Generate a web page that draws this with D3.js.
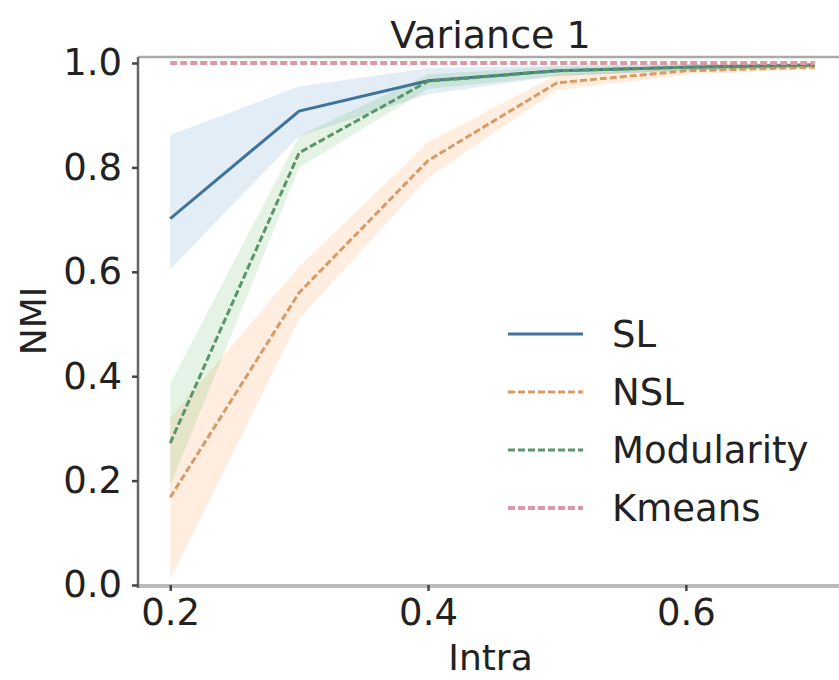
<!DOCTYPE html>
<html>
<head>
<meta charset="utf-8">
<script src="https://cdn.jsdelivr.net/npm/d3@7"></script>
<style>
  html, body { margin: 0; padding: 0; background: #fff; }
  svg { display: block; }
  text { font-family: "DejaVu Sans", sans-serif; fill: #222; }
</style>
</head>
<body>
<svg id="chart" width="839" height="680"></svg>
<script>
const xValues = [0.2, 0.3, 0.4, 0.5, 0.6, 0.7];
const slMean  = [0.702, 0.908, 0.966, 0.985, 0.992, 0.996];
const slLow   = [0.605, 0.860, 0.940, 0.975, 0.985, 0.992];
const slHigh  = [0.862, 0.955, 0.990, 0.995, 0.998, 1.000];
const nslMean = [0.168, 0.560, 0.813, 0.962, 0.985, 0.992];
const nslLow  = [0.010, 0.510, 0.780, 0.948, 0.978, 0.988];
const nslHigh = [0.320, 0.610, 0.848, 0.978, 0.993, 0.997];
const modMean = [0.272, 0.828, 0.965, 0.985, 0.992, 0.996];
const modLow  = [0.190, 0.800, 0.950, 0.975, 0.985, 0.992];
const modHigh = [0.385, 0.860, 0.978, 0.994, 0.998, 1.000];
const kmMean  = [1.0, 1.0, 1.0, 1.0, 1.0, 1.0];
const seriesNames = ["SL", "NSL", "Modularity", "Kmeans"];
const seriesColors = ["#1f77b4", "#ff7f0e", "#2ca02c", "#d62728"];
const lineColors = ["#3f739c", "#d99a66", "#5a9468", "#d99aa6"];
const xTicks = [0.2, 0.4, 0.6];
const yTicks = [0.0, 0.2, 0.4, 0.6, 0.8, 1.0];
const titleText = "Variance 1";
const xLabel = "Intra";
const yLabel = "NMI";

(function () {
const svg = d3.select("#chart");
const pLeft = 138, pRight = 847, pTop = 57, pBottom = 585;
const x = d3.scaleLinear().domain([0.175, 0.725]).range([pLeft, pRight]);
const y = d3.scaleLinear().domain([0, 1.0115]).range([pBottom, pTop]);

const series = [
  {mean: slMean, low: slLow, high: slHigh, dash: null, w: 3},
  {mean: nslMean, low: nslLow, high: nslHigh, dash: "7,3", w: 3},
  {mean: modMean, low: modLow, high: modHigh, dash: "7,3", w: 3},
  {mean: kmMean, low: null, high: null, dash: "7,3", w: 4}
];

const g = svg.append("g");
const area = d3.area().x(d => x(d.x)).y0(d => y(d.lo)).y1(d => y(d.hi));
const line = d3.line().x(d => x(d.x)).y(d => y(d.v));

series.forEach((s, i) => {
  if (s.low) {
    const pts = xValues.map((xv, j) => ({x: xv, lo: s.low[j], hi: s.high[j]}));
    g.append("path").attr("d", area(pts))
      .attr("fill", seriesColors[i]).attr("fill-opacity", 0.13);
  }
  const pts = xValues.map((xv, j) => ({x: xv, v: s.mean[j]}));
  g.append("path").attr("d", line(pts))
    .attr("fill", "none").attr("stroke", lineColors[i])
    .attr("stroke-width", s.w)
    .attr("stroke-dasharray", s.dash);
});

// spines
svg.append("line").attr("x1", pLeft).attr("x2", pRight).attr("y1", pTop).attr("y2", pTop)
  .attr("stroke", "#aaa").attr("stroke-width", 2.5);
svg.append("line").attr("x1", pLeft).attr("x2", pRight).attr("y1", pBottom + 1).attr("y2", pBottom + 1)
  .attr("stroke", "#bbb").attr("stroke-width", 4);
svg.append("line").attr("x1", pLeft).attr("x2", pLeft).attr("y1", pTop).attr("y2", pBottom + 3)
  .attr("stroke", "#666").attr("stroke-width", 2.5);

// axes
const xAxis = d3.axisBottom(x).tickValues(xTicks).tickFormat(d3.format(".1f")).tickSize(6).tickPadding(8);
const gx = svg.append("g").attr("transform", `translate(0,${pBottom})`).call(xAxis);
gx.select(".domain").remove();
gx.selectAll(".tick line").attr("stroke", "#444").attr("stroke-width", 2.5);
gx.selectAll(".tick text").attr("font-size", 37).attr("fill", "#222")
  .attr("font-family", "DejaVu Sans, sans-serif");

const yAxis = d3.axisLeft(y).tickValues(yTicks).tickFormat(d3.format(".1f")).tickSize(6).tickPadding(10);
const gy = svg.append("g").attr("transform", `translate(${pLeft},0)`).call(yAxis);
gy.select(".domain").remove();
gy.selectAll(".tick line").attr("stroke", "#444").attr("stroke-width", 2.5);
gy.selectAll(".tick text").attr("font-size", 37).attr("fill", "#222")
  .attr("font-family", "DejaVu Sans, sans-serif");

// title & labels
svg.append("text").attr("x", (pLeft + pRight) / 2 - 2).attr("y", 48)
  .attr("text-anchor", "middle").attr("font-size", 38).text(titleText);
svg.append("text").attr("x", (pLeft + pRight) / 2 - 2).attr("y", 670)
  .attr("text-anchor", "middle").attr("font-size", 36).text(xLabel);
svg.append("text").attr("transform", `translate(46,${(pTop + pBottom) / 2}) rotate(-90)`)
  .attr("text-anchor", "middle").attr("font-size", 36).text(yLabel);

// legend
const legY0 = 334, legDy = 58;
seriesNames.forEach((name, i) => {
  const ly = legY0 + i * legDy;
  svg.append("line").attr("x1", 508).attr("x2", 583).attr("y1", ly).attr("y2", ly)
    .attr("stroke", lineColors[i])
    .attr("stroke-width", series[i].w)
    .attr("stroke-dasharray", series[i].dash);
  svg.append("text").attr("x", 612).attr("y", ly + 13)
    .attr("font-size", 37).text(name);
});
})();
</script>
</body>
</html>
